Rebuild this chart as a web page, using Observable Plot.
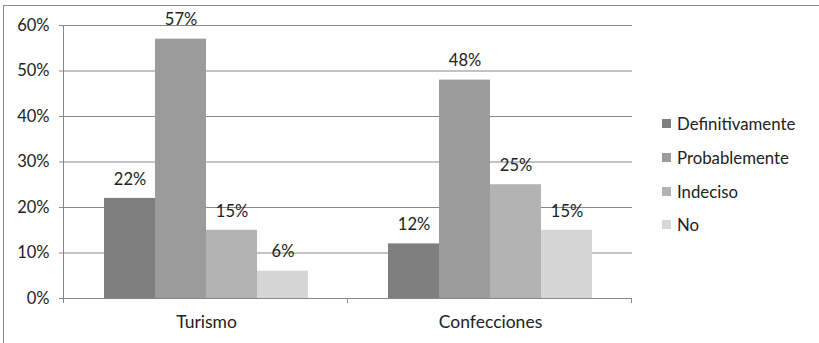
<!DOCTYPE html>
<html>
<head>
<meta charset="utf-8">
<script src="https://cdn.jsdelivr.net/npm/d3@7"></script>
<script src="https://cdn.jsdelivr.net/npm/@observablehq/plot@0.6"></script>
<style>
  html, body { margin: 0; padding: 0; background: #fff; }
  #wrap { position: relative; width: 819px; height: 343px; overflow: hidden; font-family: Lato, "Open Sans", sans-serif; }
  #frame { position: absolute; left: 3px; top: 5px; right: 0; bottom: -2px; border-top: 1.5px solid #8c8c8c; border-left: 1.5px solid #8c8c8c; pointer-events: none; }
  #chart { position: absolute; left: 0; top: 0; }
  #legend { position: absolute; left: 662px; top: 107px; font-size: 16.8px; color: #222; }
  .item { display: flex; align-items: center; height: 33.7px; }
  .sw { width: 9px; height: 9px; margin-right: 6px; }
</style>
</head>
<body>
<div id="wrap">
  <div id="chart"></div>
  <div id="frame"></div>
  <div id="legend"></div>
</div>
<script>
const categories = ["Turismo", "Confecciones"];
const series = ["Definitivamente", "Probablemente", "Indeciso", "No"];
const turismo = [0.22, 0.57, 0.15, 0.06];
const confecciones = [0.12, 0.48, 0.25, 0.15];
const yTicks = [0, 0.1, 0.2, 0.3, 0.4, 0.5, 0.6];
const colors = ["#7f7f7f", "#9b9b9b", "#b3b3b3", "#d6d6d6"];

const values = {Turismo: turismo, Confecciones: confecciones};
const data = categories.flatMap(c => series.map((s, i) => ({category: c, series: s, value: values[c][i]})));

const plot = Plot.plot({
  width: 819,
  height: 343,
  marginLeft: 63,
  marginRight: 187,
  marginTop: 25,
  marginBottom: 45,
  style: {fontFamily: "Lato, 'Open Sans', sans-serif", fontSize: "16px", color: "#222", background: "transparent"},
  fx: {domain: categories, padding: 0, label: null, axis: null},
  x: {domain: series, paddingInner: 0, paddingOuter: 0.762, axis: null},
  y: {domain: [0, 0.6], ticks: yTicks, tickFormat: d3.format(".0%"), label: null, tickSize: 5, tickPadding: 11},
  color: {domain: series, range: colors},
  marks: [
    Plot.gridY(yTicks, {stroke: "#878787", strokeOpacity: 1, strokeWidth: 1}),
    Plot.axisY(yTicks, {tickFormat: d3.format(".0%"), tickSize: 5, tickPadding: 10, stroke: "#878787", fontSize: 16.5, label: null}),
    Plot.barY(data, {fx: "category", x: "series", y: "value", fill: "series", inset: 0}),
    Plot.text(data, {fx: "category", x: "series", y: "value", text: d => d3.format(".0%")(d.value), dy: -19, fontSize: 16.5, fill: "#222"}),
    Plot.axisFx({tickSize: 0, tickPadding: 17, label: null, fontSize: 17.5, anchor: "bottom"})
  ]
});
document.getElementById("chart").appendChild(plot);

// axis lines and category boundary ticks via the plot's own scales
const fx = plot.scale("fx"), y = plot.scale("y");
const svg = d3.select(plot);
const y0 = y.apply(0), yTop = y.apply(0.6);
const edges = [...new Set(categories.flatMap(c => [fx.apply(c), fx.apply(c) + fx.bandwidth]))];
const left = d3.min(edges);
const g = svg.append("g").attr("stroke", "#878787").attr("stroke-width", 1);
g.append("line").attr("x1", left - 0.5).attr("x2", left - 0.5).attr("y1", yTop).attr("y2", y0 + 4);
g.append("line").attr("x1", left).attr("x2", d3.max(edges)).attr("y1", y0 + 0.5).attr("y2", y0 + 0.5);
edges.forEach(x => g.append("line").attr("x1", x - 0.5).attr("x2", x - 0.5).attr("y1", y0).attr("y2", y0 + 5));

// legend
const lg = d3.select("#legend");
series.forEach((s, i) => {
  const it = lg.append("div").attr("class", "item");
  it.append("div").attr("class", "sw").style("background", colors[i]);
  it.append("span").text(s);
});
</script>
</body>
</html>
